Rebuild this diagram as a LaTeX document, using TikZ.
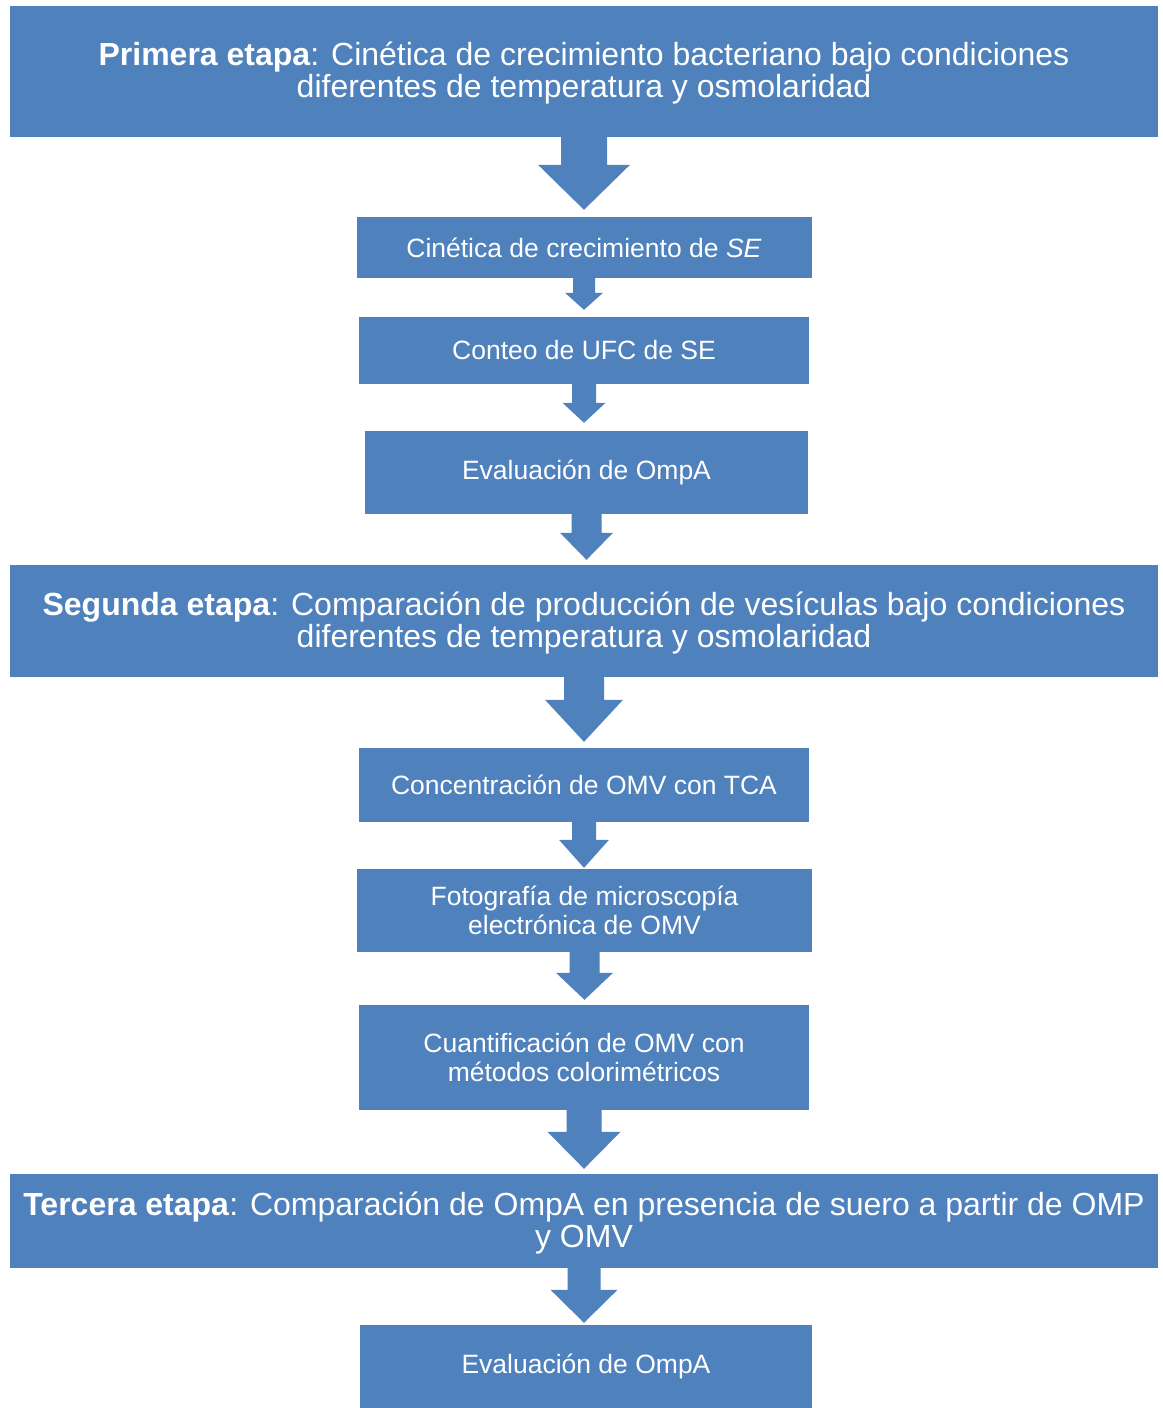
\documentclass[tikz,border=0pt]{standalone}
\usepackage{fontspec}
\setmainfont{Liberation Sans}
\usetikzlibrary{calc}
\definecolor{boxblue}{RGB}{79,129,189}
\newcommand\topstrut{\rule{0pt}{30pt}}
\newcommand\botstrut{\rule[-9.6pt]{0pt}{9.6pt}}
\tikzset{
  stagebox/.style={rectangle, fill=boxblue, draw=none, text=white, align=center,
    minimum width=1148pt, inner sep=0pt, font=\fontsize{32}{32}\selectfont},
  stepbox/.style={rectangle, fill=boxblue, draw=none, text=white, align=center,
    inner sep=0pt, font=\fontsize{26.5}{28.5}\selectfont},
  arrowfill/.style={fill=boxblue, draw=none}
}
% #1 from, #2 to, #3 shaft half width, #4 head half width, #5 head length, #6 gap
\newcommand\flowarrow[6]{%
  \fill[arrowfill] let \p1=(#1.south), \p2=(#2.north) in
    (\x1-#3pt,\y1) -- (\x1-#3pt,\y2+#5pt+#6pt) -- (\x1-#4pt,\y2+#5pt+#6pt)
    -- (\x1,\y2+#6pt) -- (\x1+#4pt,\y2+#5pt+#6pt) -- (\x1+#3pt,\y2+#5pt+#6pt)
    -- (\x1+#3pt,\y1) -- cycle;}
\begin{document}
\begin{tikzpicture}[x=1pt,y=-1pt]
\useasboundingbox[fill=white] (0,0) rectangle (1162,1408);
\clip (0,0) rectangle (1162,1408);

\node[stagebox, minimum height=131pt] (s1) at (584,71.5)
  {\topstrut\textbf{Primera etapa}: Cinética de crecimiento bacteriano bajo condiciones\\diferentes de temperatura y osmolaridad\botstrut};
\node[stepbox, minimum width=455pt, minimum height=61pt] (b1) at (584,247.5)
  {Cinética de crecimiento de \textit{SE}};
\node[stepbox, minimum width=450pt, minimum height=67pt] (b2) at (584,350.5)
  {Conteo de UFC de SE};
\node[stepbox, minimum width=443pt, minimum height=83pt] (b3) at (586.5,472.5)
  {Evaluación de OmpA};
\node[stagebox, minimum height=112pt] (s2) at (584,621)
  {\topstrut\textbf{Segunda etapa}: Comparación de producción de vesículas bajo condiciones\\diferentes de temperatura y osmolaridad\botstrut};
\node[stepbox, minimum width=450pt, minimum height=74pt] (b4) at (584,785)
  {Concentración de OMV con TCA};
\node[stepbox, minimum width=455pt, minimum height=83pt] (b5) at (584.5,910.5)
  {Fotografía de microscopía\\electrónica de OMV};
\node[stepbox, minimum width=450pt, minimum height=105pt] (b6) at (584,1057.5)
  {Cuantificación de OMV con\\métodos colorimétricos};
\node[stagebox, minimum height=94pt] (s3) at (584,1221)
  {\topstrut\textbf{Tercera etapa}: Comparación de OmpA en presencia de suero a partir de OMP\\y OMV\botstrut};
\node[stepbox, minimum width=452pt, minimum height=83pt] (b7) at (586,1366.5)
  {Evaluación de OmpA};

\flowarrow{s1}{b1}{23}{46}{45}{7}
\flowarrow{b1}{b2}{11}{19}{17}{7}
\flowarrow{b2}{b3}{12}{21.5}{20}{8}
\flowarrow{b3}{s2}{15}{26.5}{27}{5}
\flowarrow{s2}{b4}{20}{39}{42}{6}
\flowarrow{b4}{b5}{12}{25}{28}{1}
\flowarrow{b5}{b6}{15}{28.5}{27}{5}
\flowarrow{b6}{s3}{17.5}{36.5}{37}{5}
\flowarrow{s3}{b7}{16.5}{33.5}{33}{2}
\end{tikzpicture}
\end{document}
